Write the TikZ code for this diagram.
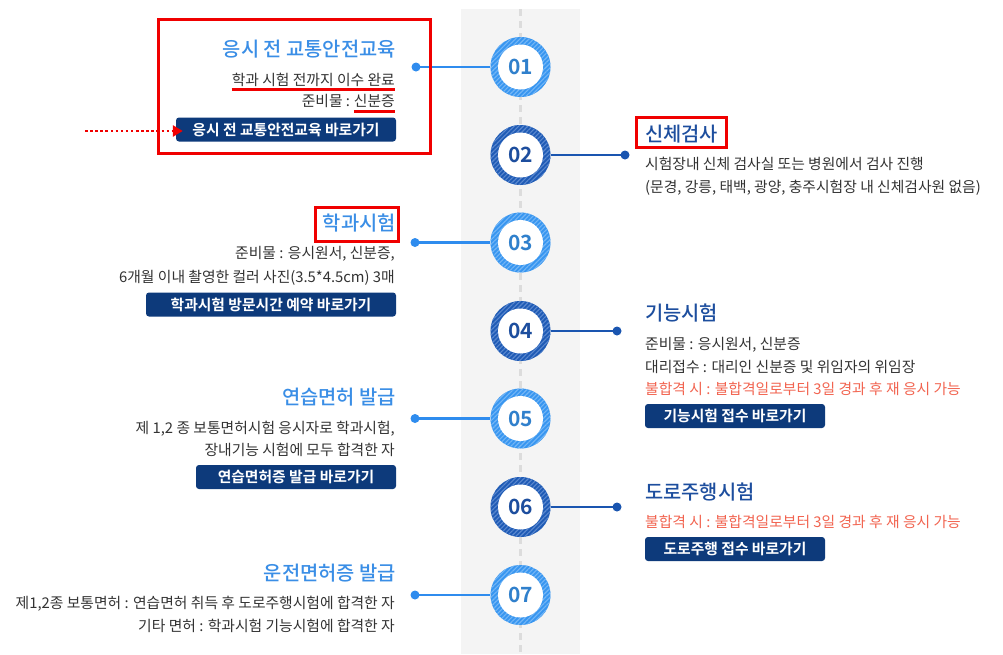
\documentclass[tikz,border=0pt]{standalone}
\usepackage{fontspec}
\setmainfont{Noto Sans CJK KR}
\newfontfamily\medfont{Noto Sans CJK KR Medium}
\newfontfamily\bldfont{Noto Sans CJK KR Bold}
\usetikzlibrary{patterns.meta,arrows.meta}
\definecolor{bandgray}{HTML}{F4F4F4}
\definecolor{dashgray}{HTML}{DCDCDC}
\definecolor{ltblue}{HTML}{3A8EE6}
\definecolor{dkblue}{HTML}{1D4E9E}
\definecolor{ringlt}{HTML}{3896F0}
\definecolor{stripelt}{HTML}{74B6F6}
\definecolor{ringdk}{HTML}{1F5BB5}
\definecolor{stripedk}{HTML}{5A88CF}
\definecolor{connlt}{HTML}{2F8CEE}
\definecolor{conndk}{HTML}{1A55B0}
\definecolor{navy}{HTML}{0D3A7B}
\definecolor{salmon}{HTML}{F26450}
\definecolor{bodytxt}{HTML}{333333}
\definecolor{hlred}{HTML}{F00000}
\newcommand\tfnt{\medfont\fontsize{19.8}{22}\selectfont}
\newcommand\bfnt{\fontsize{14.8}{17}\selectfont}
\newcommand\btnfnt{\bldfont\fontsize{14.8}{17}\selectfont}
\newcommand\numfnt{\bldfont\fontsize{21}{24}\selectfont}
\begin{document}
\begin{tikzpicture}[x=1pt,y=-1pt,
  ringL/.style={circle, minimum size=60pt, inner sep=0pt, fill=ringlt,
    postaction={pattern={Lines[angle=45,distance=3.2pt,line width=1.1pt]}, pattern color=stripelt}},
  ringD/.style={circle, minimum size=60pt, inner sep=0pt, fill=ringdk,
    postaction={pattern={Lines[angle=45,distance=3.2pt,line width=1.1pt]}, pattern color=stripedk}},
  numL/.style={circle, minimum size=45pt, inner sep=0pt, fill=white, text=ringlt!85!black, font=\numfnt},
  numD/.style={circle, minimum size=45pt, inner sep=0pt, fill=white, text=dkblue, font=\numfnt},
  dotL/.style={circle, fill=connlt, minimum size=9pt, inner sep=0pt},
  dotD/.style={circle, fill=conndk, minimum size=9pt, inner sep=0pt},
  connL/.style={draw=connlt, line width=2.4pt},
  connD/.style={draw=conndk, line width=2.4pt},
  titleL/.style={anchor=base east, inner sep=0pt, font=\tfnt, text=ltblue},
  titleD/.style={anchor=base west, inner sep=0pt, font=\tfnt, text=dkblue},
  bodyL/.style={anchor=base east, inner sep=0pt, font=\bfnt, text=bodytxt},
  bodyR/.style={anchor=base west, inner sep=0pt, font=\bfnt, text=bodytxt},
  warnR/.style={anchor=base west, inner sep=0pt, font=\bfnt, text=salmon},
  btn/.style={fill=navy, rounded corners=3pt, text=white, font=\btnfnt, minimum height=24pt, inner sep=0pt},
  redframe/.style={draw=hlred, line width=3pt},
  redline/.style={draw=hlred, line width=2.5pt}
]
\useasboundingbox (0,0) rectangle (1003,654);
\fill[white] (0,0) rectangle (1003,654);
% timeline band
\fill[bandgray] (461,9) rectangle (580,654);
\draw[dashgray, line width=3.5pt, dash pattern=on 7pt off 5pt] (520.5,9) -- (520.5,654);

% circles
\node[ringL] (c1) at (520.5,67) {};  \node[numL] (n1) at (c1.center) {01};
\node[ringD] (c2) at (520.5,155) {}; \node[numD] (n2) at (c2.center) {02};
\node[ringL] (c3) at (520.5,242.5) {}; \node[numL] (n3) at (c3.center) {03};
\node[ringD] (c4) at (520.5,331) {}; \node[numD] (n4) at (c4.center) {04};
\node[ringL] (c5) at (520.5,418.5) {}; \node[numL] (n5) at (c5.center) {05};
\node[ringD] (c6) at (520.5,507) {}; \node[numD] (n6) at (c6.center) {06};
\node[ringL] (c7) at (520.5,595) {}; \node[numL] (n7) at (c7.center) {07};

% dots and connectors
\node[dotL] (d1) at (416,67) {};
\node[dotD] (d2) at (625,155) {};
\node[dotL] (d3) at (415,242.5) {};
\node[dotD] (d4) at (617,331) {};
\node[dotL] (d5) at (415,418.5) {};
\node[dotD] (d6) at (617,507) {};
\node[dotL] (d7) at (415,595) {};
\draw[connL] (d1.center) -- (c1);
\draw[connD] (d2.center) -- (c2);
\draw[connL] (d3.center) -- (c3);
\draw[connD] (d4.center) -- (c4);
\draw[connL] (d5.center) -- (c5);
\draw[connD] (d6.center) -- (c6);
\draw[connL] (d7.center) -- (c7);

% 01
\node[titleL] (t1) at (396,56.5) {응시 전 교통안전교육};
\node[bodyL] (l1a) at (395,85.5) {학과 시험 전까지 이수 완료};
\node[bodyL] (l1c) at (395,106.5) {신분증};
\node[bodyL] (l1b) at ([xshift=-3.5pt]l1c.base west) {준비물 :};
\node[btn, minimum width=220pt] (b1) at (286,129.5) {응시 전 교통안전교육 바로가기};
\draw[redline] ([yshift=-4pt]l1a.base west) -- ([yshift=-4pt]l1a.base east);
\draw[redline] ([yshift=-5pt]l1c.base west) -- ([yshift=-5pt]l1c.base east);
\draw[redframe] (158,19) rectangle (430,153);
\coordinate (arrS) at (85,131);
\draw[hlred, line width=2.5pt, dash pattern=on 2.5pt off 2.6pt, -{Triangle[length=10pt,width=11pt]}] (arrS) -- ([xshift=7pt]b1.west |- arrS);

% 02
\node[titleD] (t2) at (645,141.5) {신체검사};
\draw[redframe] (636,117) rectangle (726.5,147);
\node[bodyR] (l2a) at (645,169.5) {시험장내 신체 검사실 또는 병원에서 검사 진행};
\node[bodyR] (l2b) at (645,192.5) {(문경, 강릉, 태백, 광양, 충주시험장 내 신체검사원 없음)};

% 03
\node[titleL] (t3) at (396,230) {학과시험};
\draw[redframe] (315.5,207.5) rectangle (398.5,241);
\node[bodyL] (l3a) at (395,258.5) {준비물 : 응시원서, 신분증,};
\node[bodyL] (l3b) at (395,282.5) {6개월 이내 촬영한 컬러 사진(3.5*4.5cm) 3매};
\node[btn, minimum width=250pt] (b3) at (271,304.5) {학과시험 방문시간 예약 바로가기};

% 04
\node[titleD] (t4) at (645,320.5) {기능시험};
\node[bodyR] (l4a) at (645,349.5) {준비물 : 응시원서, 신분증};
\node[bodyR] (l4b) at (645,372.5) {대리접수 : 대리인 신분증 및 위임자의 위임장};
\node[warnR] (l4c) at (645,394) {불합격 시 : 불합격일로부터 3일 경과 후 재 응시 가능};
\node[btn, minimum width=180pt] (b4) at (735,416) {기능시험 접수 바로가기};

% 05
\node[titleL] (t5) at (396,404.5) {연습면허 발급};
\node[bodyL] (l5a) at (395,433.5) {제 1,2 종 보통면허시험 응시자로 학과시험,};
\node[bodyL] (l5b) at (395,455) {장내기능 시험에 모두 합격한 자};
\node[btn, minimum width=200pt] (b5) at (296,477) {연습면허증 발급 바로가기};

% 06
\node[titleD] (t6) at (645,499.5) {도로주행시험};
\node[warnR] (l6a) at (645,527.5) {불합격 시 : 불합격일로부터 3일 경과 후 재 응시 가능};
\node[btn, minimum width=180pt] (b6) at (735,549) {도로주행 접수 바로가기};

% 07
\node[titleL] (t7) at (396,580.5) {운전면허증 발급};
\node[bodyL] (l7a) at (395,608.5) {제1,2종 보통면허 : 연습면허 취득 후 도로주행시험에 합격한 자};
\node[bodyL] (l7b) at (395,631) {기타 면허 : 학과시험 기능시험에 합격한 자};
\end{tikzpicture}
\end{document}
